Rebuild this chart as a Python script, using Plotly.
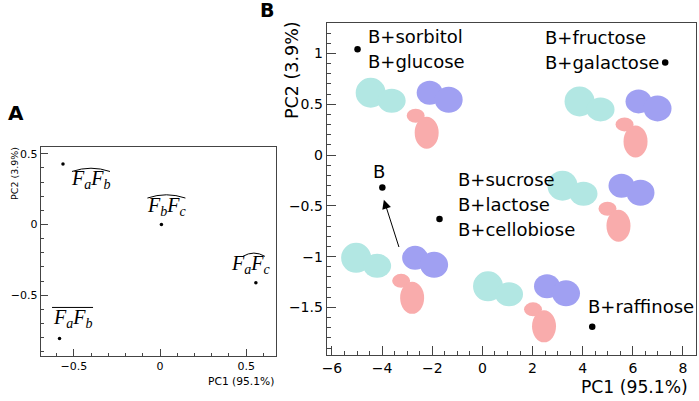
import plotly.graph_objects as go

# ---------------- data ----------------
# Panel A: PCA of fragment pairs
A_pc1 = [-0.563, 0.008, 0.556, -0.583]
A_pc2 = [0.428, 0.0, -0.412, -0.805]
A_first = ["a", "b", "a", "a"]
A_second = ["b", "c", "c", "b"]
A_accent = ["hat", "hat", "hat", "bar"]

# Panel B: PCA of B with sugars
B_pc1 = [-4.98, 7.29, -3.99, -1.71, 4.38]
B_pc2 = [1.04, 0.91, -0.32, -0.63, -1.69]
B_labels = [
    ["B+sorbitol", "B+glucose"],
    ["B+fructose", "B+galactose"],
    ["B"],
    ["B+sucrose", "B+lactose", "B+cellobiose"],
    ["B+raffinose"],
]

A_xtitle = "PC1 (95.1%)"
A_ytitle = "PC2 (3.9%)"
B_xtitle = "PC1 (95.1%)"
B_ytitle = "PC2 (3.9%)"

# ---------------- layout helpers ----------------
W, H = 699, 401
FONT = "DejaVu Sans"
FRAME = "#444444"

fig = go.Figure()

fig.add_trace(go.Scatter(x=A_pc1, y=A_pc2, mode="markers", xaxis="x", yaxis="y",
                         marker=dict(size=3.5, color="black"), showlegend=False,
                         hoverinfo="skip"))
fig.add_trace(go.Scatter(x=B_pc1, y=B_pc2, mode="markers", xaxis="x2", yaxis="y2",
                         marker=dict(size=6.5, color="black"), showlegend=False,
                         hoverinfo="skip"))

annotations = []
shapes = []

# Panel A labels (pixel offsets from each point)
A_shift = [(28, -16), (5, 18), (-5, 18), (13, 20)]
A_hat = [(0, 38), (0, 38), (3, 22), (0, 41)]  # (center offset, width)
for i in range(len(A_pc1)):
    sx, sy = A_shift[i]
    txt = ("<i>F</i><sub><i>%s</i></sub><i>F</i><sub><i>%s</i></sub>"
           % (A_first[i], A_second[i]))
    annotations.append(dict(x=A_pc1[i], y=A_pc2[i], xref="x", yref="y", text=txt,
                            showarrow=False, xshift=sx, yshift=sy,
                            xanchor="center", yanchor="middle",
                            font=dict(family="Liberation Serif", size=20, color="black")))
    c, w = A_hat[i]
    x0, x1 = sx + c - w / 2, sx + c + w / 2
    if A_accent[i] == "hat":
        path = "M %.1f,%.1f Q %.1f,%.1f %.1f,%.1f" % (x0, sy + 8.5, sx + c, sy + 15, x1, sy + 8.5)
    else:
        path = "M %.1f,%.1f L %.1f,%.1f" % (x0, sy + 11, x1, sy + 11)
    shapes.append(dict(type="path", xref="x", yref="y", xsizemode="pixel", ysizemode="pixel",
                       xanchor=A_pc1[i], yanchor=A_pc2[i], path=path,
                       line=dict(color="black", width=1)))

# Panel B labels
B_lab_shift = [
    [(8, 12.5), (8, -12.5)],
    [(-122, 25.5), (-122, 0)],
    [(-3, 16)],
    [(16.5, 40), (16.5, 15), (16.5, -10)],
    [(-6, 20)],
]
for i in range(len(B_pc1)):
    for j, line in enumerate(B_labels[i]):
        sx, sy = B_lab_shift[i][j]
        annotations.append(dict(x=B_pc1[i], y=B_pc2[i], xref="x2", yref="y2", text=line,
                                showarrow=False, xshift=sx, yshift=sy,
                                xanchor="center" if line == "B" else "left",
                                yanchor="middle",
                                font=dict(family=FONT, size=18, color="black")))

# arrow pointing to B
annotations.append(dict(x=-3.93, y=-0.44, ax=-3.31, ay=-0.92, xref="x2", yref="y2",
                        axref="x2", ayref="y2", text="", showarrow=True,
                        arrowhead=2, arrowsize=1.8, arrowwidth=1, arrowcolor="black",
                        standoff=0))

# axis titles & panel letters (paper coordinates)
annotations += [
    dict(x=273 / W, y=1 - 381 / H, xref="paper", yref="paper", text=A_xtitle,
         showarrow=False, xanchor="right", yanchor="middle",
         font=dict(family=FONT, size=10.7, color="black")),
    dict(x=9 / W, y=1 - 173 / H, xref="paper", yref="paper", text=A_ytitle,
         showarrow=False, xanchor="center", yanchor="middle", textangle=-90,
         font=dict(family=FONT, size=9.5, color="black")),
    dict(x=690 / W, y=1 - 386.5 / H, xref="paper", yref="paper", text=B_xtitle,
         showarrow=False, xanchor="right", yanchor="middle",
         font=dict(family=FONT, size=17.2, color="black")),
    dict(x=289 / W, y=1 - 70 / H, xref="paper", yref="paper", text=B_ytitle,
         showarrow=False, xanchor="center", yanchor="middle", textangle=-90,
         font=dict(family=FONT, size=17.5, color="black")),
    dict(x=11.5 / W, y=1 - 113 / H, xref="paper", yref="paper", text="<b>A</b>",
         showarrow=False, xanchor="center", yanchor="middle",
         font=dict(family=FONT, size=20, color="black")),
    dict(x=264 / W, y=1 - 10 / H, xref="paper", yref="paper", text="<b>B</b>",
         showarrow=False, xanchor="center", yanchor="middle",
         font=dict(family=FONT, size=19, color="black")),
]

# decorative protein sketches (junction anchors in panel-B data coords)
protein_anchor = [(-2.94, 0.475), (5.39, 0.39), (4.71, -0.44), (-3.52, -1.15), (1.74, -1.43)]
CY, BL, RD = "rgb(178,231,227)", "rgb(160,160,242)", "rgb(249,172,172)"
lobe_template = [  # (color, cx, cy, rx, ry) in pixels, screen y downward
    (RD, 7, 9, 9, 7),
    (RD, 18, 26, 12, 16),
    (CY, -38, -14, 15, 15),
    (CY, -17, -6, 14, 12),
    (BL, 21, -14, 13, 12),
    (BL, 40, -7, 14, 13),
]
for ax_, ay_ in protein_anchor:
    for col, cx, cy, rx, ry in lobe_template:
        shapes.append(dict(type="circle", xref="x2", yref="y2", xsizemode="pixel",
                           ysizemode="pixel", xanchor=ax_, yanchor=ay_,
                           x0=cx - rx, x1=cx + rx, y0=-cy - ry, y1=-cy + ry,
                           fillcolor=col, line=dict(width=0), layer="below"))

axis_common = dict(showline=True, mirror=True, linecolor=FRAME, linewidth=1,
                   ticks="inside", tickcolor=FRAME, showgrid=False, zeroline=False,
                   fixedrange=True)

fig.update_layout(
    width=W, height=H, margin=dict(l=0, r=0, t=0, b=0),
    paper_bgcolor="white", plot_bgcolor="white",
    font=dict(family=FONT, color="black"),
    xaxis=dict(domain=[36 / W, 273 / W], range=[-0.692, 0.673], dtick=0.5, tick0=0,
               ticklen=7, minor=dict(dtick=0.1, ticks="inside", ticklen=3.5, tickcolor=FRAME),
               tickfont=dict(size=11), anchor="y", **axis_common),
    yaxis=dict(domain=[1 - 356 / H, 1 - 147 / H], range=[-0.929, 0.548], dtick=0.5, tick0=0,
               ticklen=7, minor=dict(dtick=0.1, ticks="inside", ticklen=3.5, tickcolor=FRAME),
               tickfont=dict(size=11), anchor="x", **axis_common),
    xaxis2=dict(domain=[324 / W, 695.5 / W], range=[-6.21, 8.5], dtick=2, tick0=0,
                ticklen=9, minor=dict(dtick=0.5, ticks="inside", ticklen=4.5, tickcolor=FRAME),
                tickfont=dict(size=14), anchor="y2", **axis_common),
    yaxis2=dict(domain=[1 - 355 / H, 1 - 22.7 / H], range=[-1.968, 1.302], dtick=0.5, tick0=0,
                ticklen=9, minor=dict(dtick=0.1, ticks="inside", ticklen=4.5, tickcolor=FRAME),
                tickfont=dict(size=14), anchor="x2", **axis_common),
    annotations=annotations,
    shapes=shapes,
)

fig.write_html("out.html", config={"displayModeBar": False},
               post_script="document.body.style.margin='0';document.body.style.padding='0';")
